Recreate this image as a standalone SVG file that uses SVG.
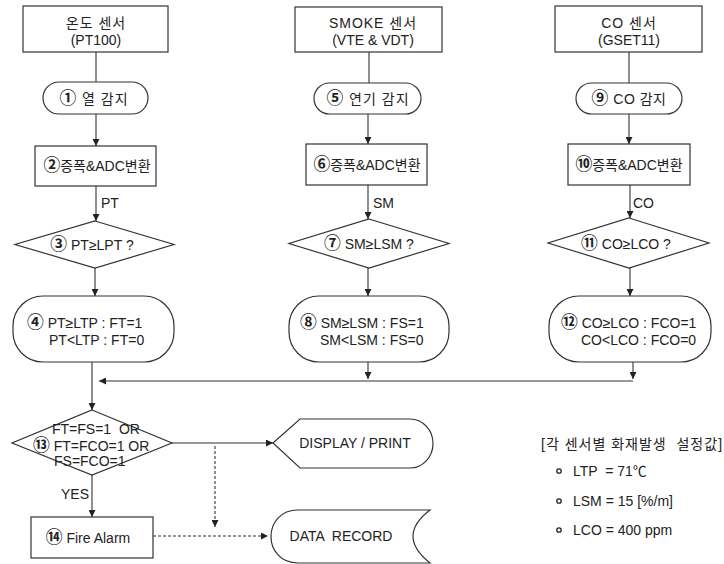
<svg xmlns="http://www.w3.org/2000/svg" width="724" height="564" viewBox="0 0 724 564">
<defs>
<marker id="ah" viewBox="0 0 8 8" refX="8" refY="4" markerWidth="7" markerHeight="7" markerUnits="userSpaceOnUse" orient="auto">
<path d="M0,0 L8,4 L0,8 Z" fill="#222"/>
</marker>
</defs>
<style>
.s{fill:#fff;stroke:#333;stroke-width:1.2}
.t{font-family:"Liberation Sans","Noto Sans CJK KR",sans-serif;font-size:14px;fill:#222;text-anchor:middle}
.l{text-anchor:start}
.n{font-size:1.2em;font-weight:bold}
.c{fill:none;stroke:#333;stroke-width:1.1}
.d{stroke-dasharray:3,2}
</style>
<rect width="724" height="564" fill="#fff"/>

<g id="temp-sensor"><rect class="s" x="23" y="6" width="145" height="46"/>
<text class="t" x="96" y="28" font-size="17" letter-spacing="1">온도 센서</text><text class="t" x="96" y="45" font-size="15">(PT100)</text></g>
<g id="smoke-sensor"><rect class="s" x="295" y="7" width="147" height="45"/>
<text class="t" x="373" y="28" font-size="17" letter-spacing="1">SMOKE 센서</text><text class="t" x="373" y="45" font-size="15">(VTE &amp; VDT)</text></g>
<g id="co-sensor"><rect class="s" x="555" y="6" width="147" height="46"/>
<text class="t" x="629" y="28" font-size="17" letter-spacing="1">CO 센서</text><text class="t" x="629" y="45" font-size="15">(GSET11)</text></g>

<g id="n1"><rect class="s" x="43" y="82" width="105" height="32" rx="16"/><text class="t" x="94" y="104" letter-spacing="1"><tspan class="n">①</tspan> 열 감지</text></g>
<g id="n5"><rect class="s" x="314" y="83" width="107" height="31" rx="15.5"/><text class="t" x="368" y="104" letter-spacing="1"><tspan class="n">⑤</tspan> 연기 감지</text></g>
<g id="n9"><rect class="s" x="576" y="83" width="106" height="31" rx="15.5"/><text class="t" x="629" y="104" letter-spacing="0.5"><tspan class="n">⑨</tspan> CO 감지</text></g>

<g id="n2"><rect class="s" x="35" y="146" width="121" height="40"/><text class="t" x="97" y="171"><tspan class="n">②</tspan>증폭&amp;ADC변환</text></g>
<g id="n6"><rect class="s" x="306" y="144" width="121" height="41"/><text class="t" x="367" y="170"><tspan class="n">⑥</tspan>증폭&amp;ADC변환</text></g>
<g id="n10"><rect class="s" x="568" y="144" width="122" height="41"/><text class="t" x="629" y="170"><tspan class="n">⑩</tspan>증폭&amp;ADC변환</text></g>

<g id="n3"><polygon class="s" points="95,221 174,244.5 95,268 15,244.5"/><text class="t" x="92" y="250"><tspan class="n">③</tspan> PT≥LPT ?</text></g>
<g id="n7"><polygon class="s" points="369,219 449,243.5 369,268 289,243.5"/><text class="t" x="369" y="249"><tspan class="n">⑦</tspan> SM≥LSM ?</text></g>
<g id="n11"><polygon class="s" points="629,218 709,243 629,268 548,243"/><text class="t" x="626" y="249"><tspan class="n">⑪</tspan> CO≥LCO ?</text></g>

<g id="n4"><rect class="s" x="13" y="296" width="161" height="66" rx="30"/>
<text class="t l" x="27" y="328" font-size="14.5"><tspan class="n">④</tspan> PT≥LTP : FT=1</text><text class="t l" x="49" y="345" font-size="14.5">PT&lt;LTP : FT=0</text></g>
<g id="n8"><rect class="s" x="289" y="296" width="160" height="66" rx="30"/>
<text class="t l" x="300" y="328" font-size="14.5"><tspan class="n">⑧</tspan> SM≥LSM : FS=1</text><text class="t l" x="320" y="345" font-size="14.5">SM&lt;LSM : FS=0</text></g>
<g id="n12"><rect class="s" x="549" y="296" width="162" height="66" rx="30"/>
<text class="t l" x="561" y="328" font-size="14.5"><tspan class="n">⑫</tspan> CO≥LCO : FCO=1</text><text class="t l" x="581" y="345" font-size="14.5">CO&lt;LCO : FCO=0</text></g>

<g id="n13"><polygon class="s" points="92,410 172,443 92,475 12,443"/>
<text class="t l" x="52" y="434" font-size="12" style="white-space:pre">FT=FS=1  OR</text>
<text class="t l" x="33" y="451" font-size="12"><tspan class="n">⑬</tspan> FT=FCO=1 OR</text>
<text class="t l" x="54" y="466" font-size="12">FS=FCO=1</text></g>

<g id="display"><path class="s" d="M273,443 L300,419 L410,419 A23,24.5 0 0 1 410,468 L300,468 Z"/>
<text class="t" x="355" y="448">DISPLAY / PRINT</text></g>

<g id="n14"><rect class="s" x="31" y="517" width="122" height="41"/><text class="t" x="88" y="543" font-size="15"><tspan class="n">⑭</tspan> Fire Alarm</text></g>

<g id="record"><path class="s" d="M298,510 L430,510 Q396,536 430,563 L298,563 C262,563 262,510 298,510 Z"/>
<text class="t" x="341" y="541" style="white-space:pre">DATA  RECORD</text></g>

<g id="settings">
<text class="t l" x="541" y="449" font-size="14.5" letter-spacing="1" style="white-space:pre">[각 센서별 화재발생  설정값]</text>
<circle cx="559" cy="471" r="2.2" fill="none" stroke="#222" stroke-width="1.3"/>
<text class="t l" x="573" y="476" font-size="15" style="white-space:pre">LTP  = 71℃</text>
<circle cx="559" cy="501" r="2.2" fill="none" stroke="#222" stroke-width="1.3"/>
<text class="t l" x="573" y="506" font-size="15">LSM = 15 [%/m]</text>
<circle cx="559" cy="530" r="2.2" fill="none" stroke="#222" stroke-width="1.3"/>
<text class="t l" x="573" y="535" font-size="15">LCO = 400 ppm</text>
</g>

<g id="connectors">
<line class="c" x1="96" y1="52" x2="96" y2="82"/>
<line class="c" x1="369" y1="52" x2="369" y2="83"/>
<line class="c" x1="629" y1="52" x2="629" y2="83"/>
<line class="c" x1="96" y1="114" x2="96" y2="146" marker-end="url(#ah)"/>
<line class="c" x1="368" y1="114" x2="368" y2="144" marker-end="url(#ah)"/>
<line class="c" x1="629" y1="114" x2="629" y2="144" marker-end="url(#ah)"/>
<line class="c" x1="96" y1="186" x2="96" y2="221" marker-end="url(#ah)"/>
<line class="c" x1="368" y1="185" x2="368" y2="219" marker-end="url(#ah)"/>
<line class="c" x1="630" y1="185" x2="630" y2="218" marker-end="url(#ah)"/>
<text class="t l" x="101" y="208">PT</text>
<text class="t l" x="373" y="208">SM</text>
<text class="t l" x="633" y="208">CO</text>
<line class="c" x1="95" y1="268" x2="95" y2="296" marker-end="url(#ah)"/>
<line class="c" x1="368" y1="268" x2="368" y2="296" marker-end="url(#ah)"/>
<line class="c" x1="630" y1="268" x2="630" y2="296" marker-end="url(#ah)"/>
<line class="c" x1="92" y1="362" x2="92" y2="410" marker-end="url(#ah)"/>
<line class="c" x1="368" y1="362" x2="368" y2="379" marker-end="url(#ah)"/>
<line class="c" x1="633" y1="362" x2="633" y2="379" marker-end="url(#ah)"/>
<line class="c" x1="633" y1="381" x2="99" y2="381" marker-end="url(#ah)"/>
<line class="c" x1="172" y1="443" x2="273" y2="443" marker-end="url(#ah)"/>
<line class="c d" x1="215" y1="446" x2="215" y2="527" marker-end="url(#ah)"/>
<line class="c" x1="92" y1="475" x2="92" y2="517" marker-end="url(#ah)"/>
<text class="t" x="75" y="499">YES</text>
<line class="c d" x1="153" y1="536" x2="268" y2="536" marker-end="url(#ah)"/>
</g>
</svg>
